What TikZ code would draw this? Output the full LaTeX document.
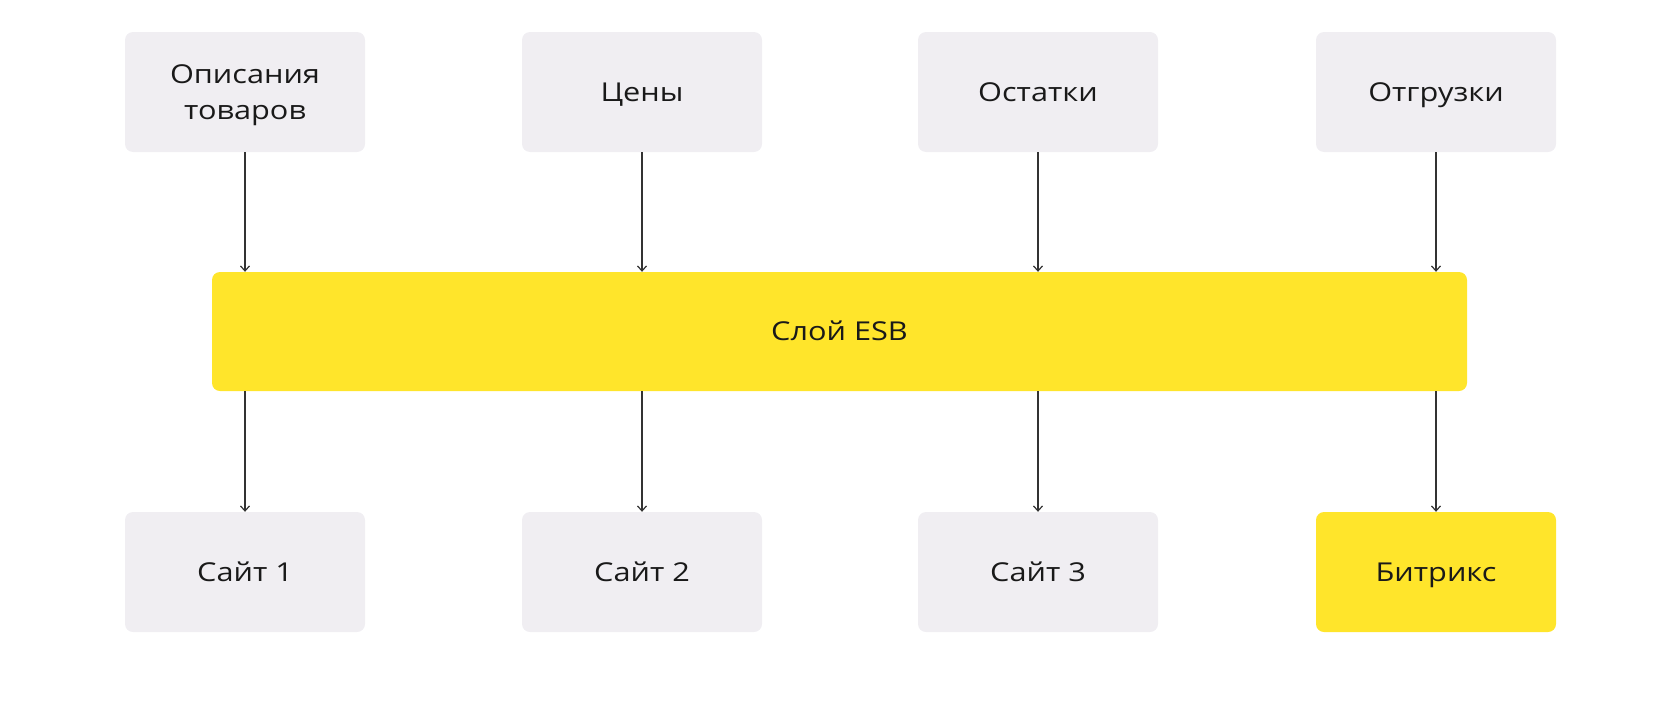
\documentclass[tikz,border=0pt]{standalone}
\usepackage{fontspec}
\setmainfont{Open Sans}[FakeStretch=1.18]
\usetikzlibrary{arrows.meta}
\definecolor{boxgray}{HTML}{F0EEF2}
\definecolor{esbyellow}{HTML}{FFE52B}

\begin{document}
\begin{tikzpicture}
[x=1pt, y=-1pt,
    block/.style={fill=boxgray, rounded corners=8pt, minimum width=240pt, minimum height=120pt,
        inner sep=0pt, align=center, text=black!90, font=\fontsize{26}{36}\selectfont},
    one line/.style={text height=18.5pt, text depth=0pt},
    two lines/.style={text depth=0pt},
    yellow block/.style={block, fill=esbyellow},
    flow/.style={draw=black!80, line width=1.2pt, -{Straight Barb[length=5pt,width=9pt]}}]
\useasboundingbox (0,0) rectangle (1680,720);
% sources
\node [block, two lines] (descr) at (245,92) {Описания\\товаров};
\node [block, one line] (prices) at (642,92) {Цены};
\node [block, one line] (stock) at (1038,92) {Остатки};
\node [block, one line] (ship) at (1436,92) {Отгрузки};
% bus
\node [yellow block, one line, minimum width=1255pt, minimum height=119pt] (esb) at (839.5,331.5) {Слой ESB};
% consumers
\node [block, one line] (site1) at (245,572) {Сайт 1};
\node [block, one line] (site2) at (642,572) {Сайт 2};
\node [block, one line] (site3) at (1038,572) {Сайт 3};
\node [yellow block, one line] (bitrix) at (1436,572) {Битрикс};
% arrows
\draw [flow] (descr) -- (descr |- esb.north);
\draw [flow] (prices) -- (prices |- esb.north);
\draw [flow] (stock) -- (stock |- esb.north);
\draw [flow] (ship) -- (ship |- esb.north);
\draw [flow] (descr |- esb.south) -- (site1);
\draw [flow] (prices |- esb.south) -- (site2);
\draw [flow] (stock |- esb.south) -- (site3);
\draw [flow] (ship |- esb.south) -- (bitrix);
\end{tikzpicture}
\end{document}
